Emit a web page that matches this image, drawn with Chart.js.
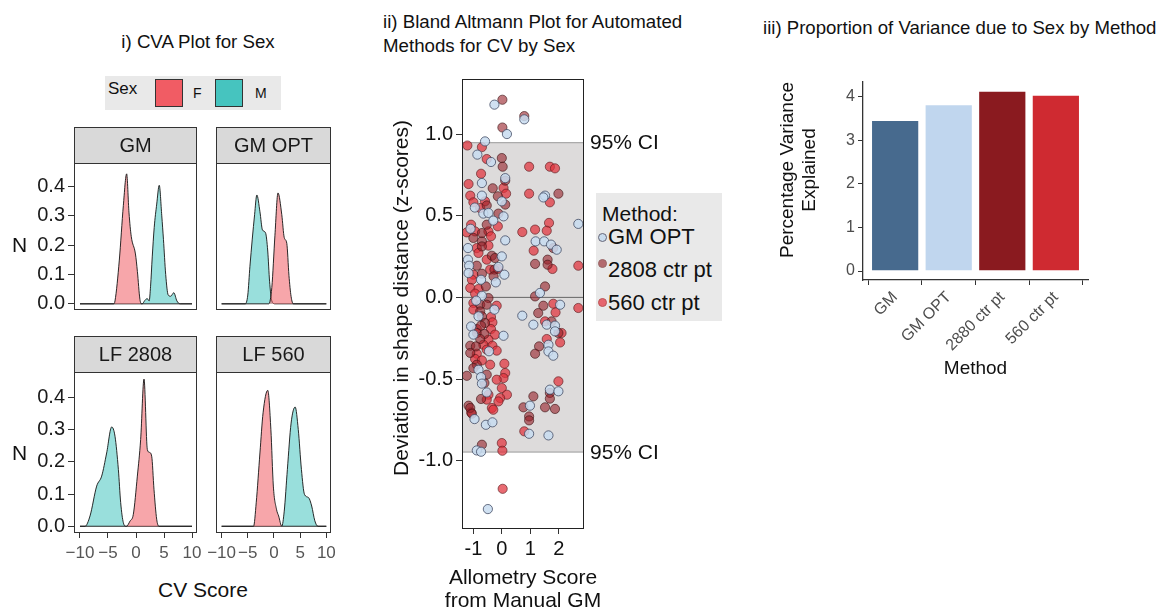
<!DOCTYPE html>
<html><head><meta charset="utf-8">
<script src="https://cdn.jsdelivr.net/npm/chart.js@4.4.0/dist/chart.umd.min.js"></script>
<style>
body{margin:0;width:1163px;height:610px;position:relative;background:#fff;font-family:"Liberation Sans",Arial,sans-serif;overflow:hidden}
canvas{position:absolute}
.t{position:absolute;white-space:nowrap;color:#111;line-height:1}
.rot{position:absolute;white-space:nowrap;color:#111;text-align:center;transform:rotate(-90deg);transform-origin:50% 50%}
</style></head><body>
<canvas id="c1" width="215" height="220" style="left:0;top:120px"></canvas>
<canvas id="c2" width="145" height="220" style="left:200px;top:120px"></canvas>
<canvas id="c3" width="215" height="240" style="left:0;top:330px"></canvas>
<canvas id="c4" width="145" height="240" style="left:200px;top:330px"></canvas>
<canvas id="c5" width="300" height="550" style="left:370px;top:60px"></canvas>
<canvas id="c6" width="345" height="320" style="left:760px;top:60px"></canvas>

<div class="t" style="left:48px;width:300px;text-align:center;top:33px;font-size:18.7px">i) CVA Plot for Sex</div>
<div class="t" style="left:383px;top:10px;font-size:18.7px;line-height:24px">ii) Bland Altmann Plot for Automated<br>Methods for CV by Sex</div>
<div class="t" style="left:763px;top:16px;font-size:18.6px;line-height:24px">iii) Proportion of Variance due to Sex by Method</div>

<div style="position:absolute;left:105px;top:76px;width:176px;height:34px;background:#e9e9e9"></div>
<div class="t" style="left:108px;top:80px;font-size:17px">Sex</div>
<div style="position:absolute;left:155px;top:79px;width:26px;height:26px;background:rgb(241,92,100);border:1px solid #333"></div>
<div class="t" style="left:193px;top:86px;font-size:14px">F</div>
<div style="position:absolute;left:215px;top:79px;width:26px;height:26px;background:rgb(70,196,191);border:1px solid #333"></div>
<div class="t" style="left:255px;top:86px;font-size:14px">M</div>

<div class="t" style="left:12px;top:234px;font-size:21px">N</div>
<div class="t" style="left:12px;top:442px;font-size:21px">N</div>
<div class="t" style="left:103px;width:200px;text-align:center;top:579px;font-size:21px">CV Score</div>

<div class="rot" style="left:201px;top:285px;width:400px;height:26px;line-height:26px;font-size:21px">Deviation in shape distance (z-scores)</div>
<div class="t" style="left:423px;width:200px;text-align:center;top:565px;font-size:21px;line-height:23px">Allometry Score<br>from Manual GM</div>

<div style="position:absolute;left:596px;top:193px;width:126px;height:128px;background:#e9e9e9"></div>
<div class="t" style="left:602px;top:203px;font-size:21px">Method:</div>
<div style="position:absolute;left:598px;top:233px;width:7px;height:7px;border-radius:50%;background:#c9dcee;border:1px solid #667"></div>
<div class="t" style="left:608px;top:226px;font-size:22px">GM OPT</div>
<div style="position:absolute;left:598px;top:259px;width:7px;height:7px;border-radius:50%;background:#b36a6e;border:1px solid #966"></div>
<div class="t" style="left:608px;top:259px;font-size:22px">2808 ctr pt</div>
<div style="position:absolute;left:598px;top:298px;width:7px;height:7px;border-radius:50%;background:#e6656e;border:1px solid #b55"></div>
<div class="t" style="left:608px;top:292px;font-size:22px">560 ctr pt</div>

<div class="rot" style="left:699px;top:147px;width:200px;height:46px;line-height:22px;font-size:19px">Percentage Variance<br>Explained</div>

<script>
// ---------- Panel i: CVA density data ----------
const facetNames = ['GM', 'GM OPT', 'LF 2808', 'LF 560'];
const cvTicks = [-10, -5, 0, 5, 10];
const densTicks = [0, 0.1, 0.2, 0.3, 0.4];
const gmF = [[-10,0],[-4,0],[-3.75,0.01],[-2.98,0.149],[-2.26,0.335],[-1.67,0.443],[-1.25,0.31],[-0.85,0.23],[-0.1,0.17],[0.25,0.11],[0.7,0.015],[1.0,0],[10,0]];
const gmM = [[-10,0],[1.1,0],[1.6,0.012],[2.0,0.018],[2.35,0.01],[2.6,0.06],[2.9,0.16],[3.25,0.26],[3.7,0.34],[4.15,0.404],[4.6,0.3],[4.9,0.22],[5.3,0.1],[5.75,0.03],[6.2,0.026],[6.75,0.038],[7.3,0.01],[7.9,0],[10,0]];
const gmOptF = [[-10,0],[-1.0,0],[-0.41,0.056],[0.18,0.232],[0.77,0.378],[1.49,0.304],[1.96,0.226],[2.45,0.206],[2.86,0.097],[3.27,0.025],[3.7,0],[10,0]];
const gmOptM = [[-10,0],[-5.5,0],[-5.0,0.03],[-4.59,0.128],[-3.7,0.304],[-3.27,0.371],[-2.68,0.314],[-2.2,0.252],[-1.61,0.242],[-1.19,0.18],[-0.84,0.077],[-0.41,0.01],[0.2,0],[10,0]];
const lf2808F = [[-10,0],[-1.7,0],[-1.07,0.016],[-0.48,0.037],[0.24,0.156],[0.83,0.27],[1.43,0.458],[2.02,0.239],[2.38,0.23],[2.8,0.218],[3.21,0.115],[3.69,0.022],[4.1,0],[10,0]];
const lf2808M = [[-10,0],[-9.1,0],[-8.21,0.032],[-7.02,0.125],[-6.13,0.156],[-5.24,0.228],[-4.34,0.309],[-3.75,0.28],[-3.15,0.177],[-2.74,0.074],[-2.26,0.011],[-1.79,0],[10,0]];
const lf560F = [[-10,0],[-3.9,0],[-3.39,0.073],[-2.68,0.228],[-2.08,0.353],[-1.19,0.423],[-0.59,0.301],[-0.12,0.125],[0.48,0.053],[0.89,0.032],[1.49,0],[10,0]];
const lf560M = [[-10,0],[1.49,0],[1.96,0.047],[2.56,0.177],[3.27,0.321],[4.05,0.371],[4.64,0.301],[5.24,0.177],[5.83,0.099],[6.61,0.089],[7.2,0.063],[7.8,0.017],[8.4,0],[10,0]];
const densF = [gmF, gmOptF, lf2808F, lf560F];
const densM = [gmM, gmOptM, lf2808M, lf560M];

// ---------- Panel ii: Bland Altmann data ----------
const ciBound = 0.947;
const baXTicks = [-1, 0, 1, 2];
const baYTicks = [-1, -0.5, 0, 0.5, 1];
const gmOptPts = [[-0.26,1.18],[0.79,1.09],[0.18,1.0],[-0.59,0.955],[-0.86,0.874],[-0.38,0.829],[0.12,0.73],[-0.70,0.70],[-0.70,0.623],[1.52,0.623],[1.46,0.612],[0,0.588],[-0.65,0.513],[-0.47,0.517],[0.06,0.496],[2.69,0.45],[0.12,0.349],[1.19,0.343],[1.49,0.343],[1.73,0.323],[1.93,0.292],[-1.19,0.302],[0,0.251],[-1.19,0.231],[-1.15,0.194],[-0.12,0.186],[-1.17,0.149],[0.09,0.139],[-0.73,0.108],[-0.21,0.092],[1.34,0.027],[-0.70,0.01],[-0.26,-0.075],[2.05,-0.045],[0.72,-0.112],[-0.82,-0.116],[1.11,-0.167],[1.58,-0.167],[1.87,-0.173],[-1.08,-0.178],[1.87,-0.208],[-1.0,-0.228],[0.06,-0.235],[1.64,-0.29],[1.64,-0.331],[1.81,-0.357],[-0.82,-0.443],[-0.73,-0.488],[-0.70,-0.528],[1.69,-0.565],[1.99,-0.575],[-0.53,-0.582],[0.99,-0.663],[-0.96,-0.745],[-0.56,-0.78],[-0.33,-0.765],[0.96,-0.835],[1.64,-0.845],[-0.88,-0.937],[-0.73,-0.945],[-0.49,-1.296],[-0.95,0.55],[-0.3,0.47],[-0.9,-0.02],[-0.45,-0.33],[-1.1,0.42]];
const ctr2808Pts = [[0.02,1.21],[0.79,1.11],[0.02,1.04],[0,0.853],[0.03,0.80],[0.12,0.715],[-0.32,0.668],[-0.14,0.619],[1.99,0.635],[-0.53,0.563],[0.12,0.568],[-0.12,0.513],[-0.53,0.445],[-1.0,0.364],[-0.70,0.343],[-0.70,0.394],[1.81,0.302],[-0.70,0.312],[-0.35,0.255],[-0.24,0.241],[1.17,0.205],[1.61,0.231],[1.61,0.20],[-0.88,0.194],[-0.26,0.17],[-0.70,0.145],[-0.29,0.129],[-0.56,0.067],[1.52,0.067],[1.17,0.006],[-0.47,-0.004],[-0.76,-0.045],[-0.53,-0.045],[1.46,-0.051],[-0.76,-0.086],[1.28,-0.096],[-0.70,-0.116],[1.75,-0.147],[-0.59,-0.157],[-0.73,-0.173],[1.99,-0.218],[-0.88,-0.218],[-0.61,-0.224],[-0.76,-0.255],[-1.11,-0.296],[-0.91,-0.30],[1.31,-0.30],[-1.11,-0.34],[1.17,-0.345],[-0.88,-0.412],[-1.0,-0.433],[-1.23,-0.48],[-0.53,-0.473],[-0.61,-0.524],[1.69,-0.585],[1.11,-0.606],[-0.73,-0.622],[1.69,-0.62],[-1.17,-0.663],[-1.11,-0.677],[0.76,-0.673],[1.52,-0.673],[1.87,-0.683],[-1.05,-0.712],[0.96,-0.729],[0.96,-0.753],[-0.70,-0.902]];
const ctr560Pts = [[-1.21,0.93],[-0.70,0.92],[-0.53,0.847],[0.96,0.80],[1.69,0.80],[1.87,0.79],[-0.73,0.757],[-1.17,0.694],[0.06,0.67],[-1.11,0.623],[0.15,0.635],[0.96,0.635],[-1.0,0.582],[-0.59,0.588],[1.69,0.582],[-0.76,0.547],[-1.08,0.445],[-0.14,0.435],[1.66,0.456],[-1.23,0.398],[-0.94,0.404],[-0.47,0.404],[0.72,0.40],[1.17,0.415],[1.58,0.408],[-0.38,0.374],[-0.88,0.302],[-0.47,0.317],[-0.82,0.272],[1.12,0.286],[-0.53,0.231],[2.69,0.194],[1.78,0.174],[-0.41,0.17],[-0.14,0.174],[-1.0,0.139],[-1.05,0.108],[-1.11,0.058],[-0.82,0.051],[-0.94,0.023],[-1.0,-0.034],[-0.18,-0.051],[1.81,-0.039],[2.69,-0.065],[-1.0,-0.075],[1.89,-0.092],[-0.38,-0.12],[1.52,-0.147],[-0.33,-0.153],[-0.88,-0.194],[-0.38,-0.194],[2.1,-0.218],[-0.24,-0.228],[-0.47,-0.259],[1.58,-0.255],[2.05,-0.276],[-0.65,-0.29],[-0.33,-0.296],[-0.53,-0.32],[-0.18,-0.326],[-0.88,-0.345],[-0.94,-0.377],[-0.70,-0.386],[-0.41,-0.412],[0.09,-0.406],[0.12,-0.463],[0.06,-0.494],[-0.18,-0.504],[1.99,-0.514],[0,-0.555],[0.18,-0.596],[-0.47,-0.596],[-0.06,-0.616],[-0.53,-0.626],[-0.12,-0.637],[-0.35,-0.677],[-1.08,-0.704],[-0.3,-0.688],[0.79,-0.82],[0,-0.892],[0.02,-0.939],[0.03,-1.172]];

// ---------- Panel iii: bar data ----------
const methods = ['GM', 'GM OPT', '2880 ctr pt', '560 ctr pt'];
const varExplained = [3.47, 3.83, 4.14, 4.05];
const varTicks = [0, 1, 2, 3, 4];

Chart.defaults.font.family = '"Liberation Sans", Arial, sans-serif';
const FONT = '"Liberation Sans", Arial, sans-serif';

function layoutFor(rect, area, showX, showY) {
  return {
    padding: {
      left: showY ? 0 : area.l - rect.left,
      top: area.t - rect.top,
      right: rect.left + rect.w - area.r,
      bottom: showX ? 0 : rect.top + rect.h - area.b
    },
    yw: area.l - rect.left,
    xh: rect.top + rect.h - area.b
  };
}
const toPts = arr => arr.map(p => ({x: p[0], y: p[1]}));
const minus = v => (v < 0 ? '\u2212' + Math.abs(v) : String(v));
const tickGrid = len => ({display: true, drawOnChartArea: false, drawTicks: true, tickLength: len, color: '#333', tickWidth: 1});

const facetDeco = {
  id: 'facetDeco',
  afterDatasetsDraw(chart, args, opts) {
    const a = chart.chartArea, ctx = chart.ctx;
    ctx.save();
    ctx.strokeStyle = '#333'; ctx.lineWidth = 1;
    ctx.strokeRect(a.left + 0.5, a.top + 0.5, a.width - 1, a.height - 1);
    const sh = opts.stripH;
    ctx.fillStyle = '#d9d9d9';
    ctx.fillRect(a.left, a.top - sh, a.width, sh);
    ctx.strokeRect(a.left + 0.5, a.top - sh + 0.5, a.width - 1, sh);
    ctx.fillStyle = '#1a1a1a';
    ctx.font = '20px ' + FONT;
    ctx.textAlign = 'center'; ctx.textBaseline = 'middle';
    ctx.fillText(opts.label, (a.left + a.right) / 2, a.top - sh / 2 + 1);
    ctx.restore();
  }
};

function facetChart(i, id, rect, area, showX, showY) {
  const L = layoutFor(rect, area, showX, showY);
  return new Chart(document.getElementById(id), {
    type: 'line',
    data: {datasets: [
      {data: toPts(densF[i]), borderColor: 'rgba(20,20,20,0.9)', borderWidth: 1, backgroundColor: 'rgba(241,92,100,0.55)', fill: 'origin', pointRadius: 0, cubicInterpolationMode: 'monotone'},
      {data: toPts(densM[i]), borderColor: 'rgba(20,20,20,0.9)', borderWidth: 1, backgroundColor: 'rgba(70,196,191,0.55)', fill: 'origin', pointRadius: 0, cubicInterpolationMode: 'monotone'}
    ]},
    options: {
      responsive: false, animation: false, devicePixelRatio: 1,
      layout: {padding: L.padding},
      plugins: {legend: {display: false}, tooltip: {enabled: false}, facetDeco: {label: facetNames[i], stripH: 36}},
      scales: {
        x: {type: 'linear', min: -11.07, max: 10.89, display: showX,
            afterFit: s => { s.height = L.xh; },
            afterBuildTicks: s => { s.ticks = cvTicks.map(v => ({value: v})); },
            ticks: {autoSkip: false, maxRotation: 0, minRotation: 0, padding: 5, color: '#555', font: {size: 17}, callback: v => minus(v)},
            grid: tickGrid(5), border: {display: false}},
        y: {type: 'linear', min: -0.021, max: 0.48, display: showY,
            afterFit: s => { s.width = L.yw; },
            afterBuildTicks: s => { s.ticks = densTicks.map(v => ({value: v})); },
            ticks: {padding: 3, color: '#1a1a1a', font: {size: 20}, callback: v => v.toFixed(1)},
            grid: tickGrid(6), border: {display: false}}
      }
    },
    plugins: [facetDeco]
  });
}

facetChart(0, 'c1', {left: 0, top: 120, w: 215, h: 220}, {l: 74, t: 163, r: 197, b: 325}, false, true);
facetChart(1, 'c2', {left: 200, top: 120, w: 145, h: 220}, {l: 208, t: 163, r: 331, b: 325}, false, false);
facetChart(2, 'c3', {left: 0, top: 330, w: 215, h: 240}, {l: 74, t: 372, r: 197, b: 533}, true, true);
facetChart(3, 'c4', {left: 200, top: 330, w: 145, h: 240}, {l: 208, t: 372, r: 331, b: 533}, true, false);

// ---------- Panel ii chart ----------
const baDeco = {
  id: 'baDeco',
  beforeDatasetsDraw(chart) {
    const {ctx, chartArea: a} = chart, y = chart.scales.y;
    const yt = y.getPixelForValue(ciBound), yb = y.getPixelForValue(-ciBound), y0 = y.getPixelForValue(0);
    ctx.save();
    ctx.fillStyle = '#dddbdb';
    ctx.fillRect(a.left, yt, a.width, yb - yt);
    ctx.lineWidth = 1;
    ctx.strokeStyle = '#9a9a9a';
    [yt, yb].forEach(p => { ctx.beginPath(); ctx.moveTo(a.left, p); ctx.lineTo(a.right, p); ctx.stroke(); });
    ctx.strokeStyle = '#666';
    ctx.beginPath(); ctx.moveTo(a.left, y0); ctx.lineTo(a.right, y0); ctx.stroke();
    ctx.restore();
  },
  afterDatasetsDraw(chart) {
    const {ctx, chartArea: a} = chart, y = chart.scales.y;
    ctx.save();
    ctx.strokeStyle = '#222'; ctx.lineWidth = 1;
    ctx.strokeRect(a.left + 0.5, a.top + 0.5, a.width - 1, a.height - 1);
    ctx.fillStyle = '#111'; ctx.font = '21px ' + FONT;
    ctx.textAlign = 'left'; ctx.textBaseline = 'middle';
    ctx.fillText('95% CI', a.right + 6, y.getPixelForValue(ciBound) + 1);
    ctx.fillText('95% CI', a.right + 6, y.getPixelForValue(-ciBound) + 1);
    ctx.restore();
  }
};
(function () {
  const rect = {left: 370, top: 60, w: 300, h: 550}, area = {l: 462, t: 79, r: 584, b: 529};
  const L = layoutFor(rect, area, true, true);
  const ds = (pts, fill, stroke) => ({data: toPts(pts), backgroundColor: fill, borderColor: stroke, borderWidth: 0.9, pointRadius: 4.6});
  new Chart(document.getElementById('c5'), {
    type: 'scatter',
    data: {datasets: [
      ds(gmOptPts, 'rgba(200,220,240,0.85)', 'rgba(60,70,95,0.85)'),
      ds(ctr2808Pts, 'rgba(150,30,38,0.6)', 'rgba(60,20,22,0.7)'),
      ds(ctr560Pts, 'rgba(225,50,60,0.72)', 'rgba(90,25,28,0.7)')
    ]},
    options: {
      responsive: false, animation: false, devicePixelRatio: 1,
      layout: {padding: L.padding},
      plugins: {legend: {display: false}, tooltip: {enabled: false}},
      scales: {
        x: {type: 'linear', min: -1.40, max: 2.89,
            afterFit: s => { s.height = L.xh; },
            afterBuildTicks: s => { s.ticks = baXTicks.map(v => ({value: v})); },
            ticks: {autoSkip: false, maxRotation: 0, minRotation: 0, padding: 3, color: '#111', font: {size: 20}, callback: v => String(v)},
            grid: tickGrid(5), border: {display: false}},
        y: {type: 'linear', min: -1.418, max: 1.337,
            afterFit: s => { s.width = L.yw; },
            afterBuildTicks: s => { s.ticks = baYTicks.map(v => ({value: v})); },
            ticks: {padding: 3, color: '#111', font: {size: 20}, callback: v => v.toFixed(1)},
            grid: tickGrid(6), border: {display: false}}
      }
    },
    plugins: [baDeco]
  });
})();

// ---------- Panel iii chart ----------
(function () {
  const rect = {left: 760, top: 60, w: 345, h: 320}, area = {l: 863, t: 82, r: 1088, b: 280};
  const L = layoutFor(rect, area, true, true);
  new Chart(document.getElementById('c6'), {
    type: 'bar',
    data: {datasets: [{
      data: methods.map((m, i) => ({x: i + 1, y: varExplained[i]})),
      backgroundColor: ['#476a8e', '#c0d6ee', '#8a1a1f', '#cf2a31'],
      borderColor: 'rgba(255,255,255,0.5)', borderWidth: 1,
      barPercentage: 0.9, categoryPercentage: 1
    }]},
    options: {
      responsive: false, animation: false, devicePixelRatio: 1,
      layout: {padding: L.padding},
      plugins: {legend: {display: false}, tooltip: {enabled: false}},
      scales: {
        x: {type: 'linear', min: 0.4, max: 4.6, offset: false,
            afterFit: s => { s.height = L.xh; },
            afterBuildTicks: s => { s.ticks = methods.map((m, i) => ({value: i + 1})); },
            ticks: {autoSkip: false, minRotation: 45, maxRotation: 45, padding: 3, color: '#4d4d4d', font: {size: 16}, callback: v => methods[v - 1]},
            grid: tickGrid(5), border: {display: true, color: '#333', width: 1.3},
            title: {display: true, text: 'Method', color: '#111', font: {size: 19, lineHeight: 1.2}, padding: {top: 0, bottom: 0}}},
        y: {type: 'linear', min: -0.206, max: 4.34,
            afterFit: s => { s.width = L.yw; },
            afterBuildTicks: s => { s.ticks = varTicks.map(v => ({value: v})); },
            ticks: {padding: 3, color: '#4d4d4d', font: {size: 16}, callback: v => String(v)},
            grid: tickGrid(5), border: {display: true, color: '#333', width: 1.3}}
      }
    }
  });
})();
</script>
</body></html>
